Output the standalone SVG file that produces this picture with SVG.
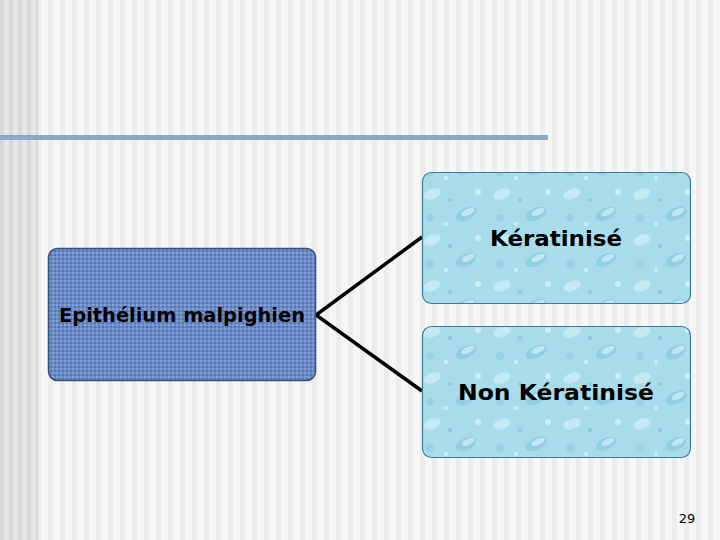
<svg xmlns="http://www.w3.org/2000/svg" width="720" height="540" viewBox="0 0 720 540">
<defs>
<pattern id="stripes" x="0" y="0" width="12" height="540" patternUnits="userSpaceOnUse">
<rect width="12" height="540" fill="#f6f6f6"/>
<rect x="0" width="5" height="540" fill="#ececec"/>
</pattern>
<pattern id="stripesL" x="0" y="0" width="9" height="540" patternUnits="userSpaceOnUse">
<rect width="9" height="540" fill="#e6e6e6"/>
<rect x="0" width="4" height="540" fill="#d8d8d8"/>
</pattern>
<pattern id="weave" x="0" y="0" width="4" height="4" patternUnits="userSpaceOnUse">
<rect width="4" height="4" fill="#6b8bc8"/>
<rect width="2" height="2" fill="#849fd2"/>
<rect x="2" y="2" width="2" height="2" fill="#5676b4"/>
</pattern>
<pattern id="drops" x="0" y="0" width="70" height="46" patternUnits="userSpaceOnUse">
<rect width="70" height="46" fill="#a9dcea"/>
<ellipse cx="12" cy="10" rx="9" ry="5" fill="#c2eaf4" transform="rotate(-20 12 10)"/>
<ellipse cx="46" cy="30" rx="11" ry="6" fill="#92cfe2" transform="rotate(-25 46 30)"/>
<ellipse cx="48" cy="28" rx="7" ry="3" fill="#bfe7f2" transform="rotate(-25 48 28)"/>
<circle cx="58" cy="8" r="3" fill="#c9eef6"/>
<circle cx="10" cy="34" r="4" fill="#98d3e4"/>
<circle cx="30" cy="16" r="2" fill="#8ccbdf"/>
<circle cx="26" cy="40" r="2" fill="#c9eef6"/>
</pattern>
<style>
.lbl{font-family:"Comic Sans MS","DejaVu Sans",sans-serif;font-weight:bold;fill:#000;text-anchor:middle}
.conn{stroke:#000;stroke-width:3.5;fill:none}
</style>
</defs>
<rect width="720" height="540" fill="url(#stripes)"/>
<rect width="38" height="540" fill="url(#stripesL)"/>
<rect x="0" y="135" width="548" height="5" fill="#8fa9c4"/>
<g id="connectors">
<path class="conn" d="M422,237 L316,315 L422,391"/>
</g>
<g id="epithelium">
<rect x="48.5" y="248.5" width="267" height="132" rx="9" fill="url(#weave)" stroke="#3b4f79" stroke-width="1.5"/>
<text class="lbl" x="182" y="322" font-size="20" textLength="246" lengthAdjust="spacingAndGlyphs">Epithélium malpighien</text>
</g>
<g id="keratinise">
<rect x="422.5" y="172.5" width="268" height="131" rx="9" fill="url(#drops)" stroke="#3a7d97" stroke-width="1.2"/>
<text class="lbl" x="556" y="246" font-size="21" textLength="132" lengthAdjust="spacingAndGlyphs">Kératinisé</text>
</g>
<g id="non-keratinise">
<rect x="422.5" y="326.5" width="268" height="131" rx="9" fill="url(#drops)" stroke="#3a7d97" stroke-width="1.2"/>
<text class="lbl" x="556" y="400" font-size="21" textLength="196" lengthAdjust="spacingAndGlyphs">Non Kératinisé</text>
</g>
<text x="687" y="523" font-family="DejaVu Sans, sans-serif" font-size="13" fill="#000" text-anchor="middle">29</text>
</svg>
